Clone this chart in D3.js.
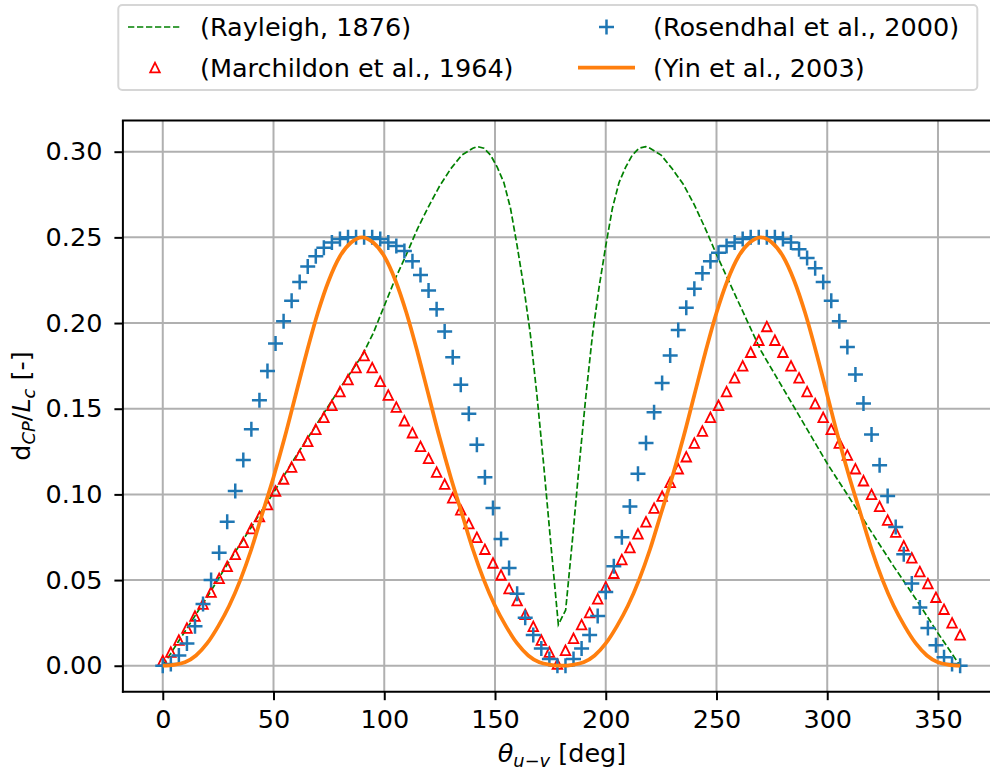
<!DOCTYPE html>
<html>
<head>
<meta charset="utf-8">
<script src="https://cdn.jsdelivr.net/npm/d3@7"></script>
<style>
  body { margin: 0; background: #fff; }
  text { font-family: "DejaVu Sans", sans-serif; }
</style>
</head>
<body>
<svg id="chart" width="990" height="774"></svg>
<script>
// sample angles shared by the two measured series (deg)
const theta = [0, 3.64, 7.27, 10.91, 14.55, 18.18, 21.82, 25.45, 29.09, 32.73,
  36.36, 40, 43.64, 47.27, 50.91, 54.55, 58.18, 61.82, 65.45, 69.09,
  72.73, 76.36, 80, 83.64, 87.27, 90.91, 94.55, 98.18, 101.82, 105.45,
  109.09, 112.73, 116.36, 120, 123.64, 127.27, 130.91, 134.55, 138.18, 141.82,
  145.45, 149.09, 152.73, 156.36, 160, 163.64, 167.27, 170.91, 174.55, 178.18,
  181.82, 185.45, 189.09, 192.73, 196.36, 200, 203.64, 207.27, 210.91, 214.55,
  218.18, 221.82, 225.45, 229.09, 232.73, 236.36, 240, 243.64, 247.27, 250.91,
  254.55, 258.18, 261.82, 265.45, 269.09, 272.73, 276.36, 280, 283.64, 287.27,
  290.91, 294.55, 298.18, 301.82, 305.45, 309.09, 312.73, 316.36, 320, 323.64,
  327.27, 330.91, 334.55, 338.18, 341.82, 345.45, 349.09, 352.73, 356.36, 360]

// (Marchildon et al., 1964)
const marchildon = [0.003, 0.008, 0.015, 0.022, 0.029, 0.036, 0.043, 0.051, 0.058, 0.065,
  0.072, 0.080, 0.087, 0.094, 0.102, 0.109, 0.116, 0.123, 0.131, 0.138,
  0.145, 0.152, 0.160, 0.167, 0.174, 0.181, 0.174, 0.166, 0.158, 0.151,
  0.143, 0.136, 0.128, 0.121, 0.113, 0.106, 0.098, 0.091, 0.083, 0.075,
  0.068, 0.060, 0.053, 0.045, 0.038, 0.030, 0.023, 0.015, 0.008, 0.001,
  0.009, 0.016, 0.024, 0.031, 0.039, 0.046, 0.054, 0.062, 0.069, 0.077,
  0.084, 0.092, 0.099, 0.107, 0.115, 0.122, 0.130, 0.137, 0.145, 0.152,
  0.160, 0.168, 0.175, 0.183, 0.190, 0.198, 0.190, 0.183, 0.175, 0.168,
  0.160, 0.153, 0.145, 0.138, 0.130, 0.123, 0.115, 0.108, 0.100, 0.093,
  0.085, 0.078, 0.070, 0.063, 0.055, 0.048, 0.040, 0.033, 0.025, 0.018]

// (Rosendhal et al., 2000)
const rosendahl = [0.000, 0.001, 0.006, 0.013, 0.023, 0.036, 0.050, 0.066, 0.084, 0.102,
  0.120, 0.138, 0.155, 0.172, 0.188, 0.201, 0.213, 0.224, 0.233, 0.239,
  0.244, 0.247, 0.249, 0.250, 0.250, 0.250, 0.250, 0.249, 0.247, 0.245,
  0.242, 0.236, 0.228, 0.219, 0.208, 0.195, 0.180, 0.164, 0.147, 0.129,
  0.110, 0.092, 0.074, 0.057, 0.042, 0.028, 0.018, 0.010, 0.004, 0.000,
  0.000, 0.004, 0.010, 0.018, 0.029, 0.043, 0.058, 0.075, 0.093, 0.112,
  0.130, 0.148, 0.165, 0.181, 0.196, 0.209, 0.220, 0.229, 0.236, 0.241,
  0.245, 0.247, 0.249, 0.250, 0.250, 0.250, 0.250, 0.249, 0.247, 0.243,
  0.238, 0.232, 0.224, 0.213, 0.201, 0.186, 0.170, 0.153, 0.135, 0.117,
  0.099, 0.081, 0.065, 0.048, 0.034, 0.022, 0.012, 0.005, 0.001, 0.000]

// (Rayleigh, 1876)
const rayleighTheta = [0, 10, 20, 30, 40, 50, 60, 70, 80, 90, 95, 100, 105, 110, 115,
  120, 125, 130, 135, 140, 142, 145, 148, 151, 154, 157, 160, 163, 166, 169,
  172, 175, 178.6, 181.9, 185, 188, 191, 194, 197, 200, 203, 206, 209, 212, 215,
  218, 220, 225, 230, 235, 240, 245, 250, 255, 260, 265, 270, 280, 290, 300,
  310, 320, 330, 340, 350, 360]
const rayleigh = [0, 0.020, 0.040, 0.061, 0.081, 0.101, 0.122, 0.142, 0.162, 0.181, 0.194, 0.210, 0.226, 0.240, 0.255,
  0.268, 0.280, 0.290, 0.298, 0.302, 0.303, 0.302, 0.298, 0.291, 0.282, 0.267, 0.245, 0.221, 0.193, 0.157,
  0.117, 0.074, 0.024, 0.0325, 0.074, 0.117, 0.157, 0.193, 0.221, 0.245, 0.267, 0.282, 0.291, 0.298, 0.302,
  0.303, 0.302, 0.298, 0.290, 0.281, 0.269, 0.255, 0.240, 0.226, 0.212, 0.198, 0.184, 0.162, 0.140, 0.118,
  0.098, 0.078, 0.058, 0.039, 0.019, 0]

// (Yin et al., 2003)
const yinTheta = [0, 5, 10, 15, 20, 25, 30, 35, 40, 45, 50, 55, 60, 65, 70, 75, 80, 85, 90,
  95, 100, 105, 110, 115, 120, 125, 130, 135, 140, 145, 150, 155, 160, 165, 170, 175, 180,
  185, 190, 195, 200, 205, 210, 215, 220, 225, 230, 235, 240, 245, 250, 255, 260, 265, 270,
  275, 280, 285, 290, 295, 300, 305, 310, 315, 320, 325, 330, 335, 340, 345, 350, 355, 360]
const yin = [0, 0.0005, 0.002, 0.006, 0.013, 0.023, 0.035, 0.050, 0.068, 0.089, 0.110, 0.133, 0.158, 0.183, 0.206, 0.225, 0.239, 0.247, 0.250,
  0.247, 0.239, 0.225, 0.206, 0.183, 0.158, 0.133, 0.110, 0.089, 0.068, 0.050, 0.035, 0.023, 0.013, 0.006, 0.002, 0.0005, 0,
  0.0005, 0.002, 0.006, 0.013, 0.023, 0.035, 0.050, 0.068, 0.089, 0.110, 0.133, 0.158, 0.183, 0.206, 0.225, 0.239, 0.247, 0.250,
  0.247, 0.239, 0.225, 0.206, 0.183, 0.158, 0.133, 0.110, 0.089, 0.068, 0.050, 0.035, 0.023, 0.013, 0.006, 0.002, 0.0005, 0]

const xTicks = [0, 50, 100, 150, 200, 250, 300, 350]
const yTicks = [0, 0.05, 0.10, 0.15, 0.20, 0.25, 0.30]

const legendItems = [
  {label: '(Rayleigh, 1876)', kind: 'dash', color: 'green'},
  {label: '(Marchildon et al., 1964)', kind: 'tri', color: 'red'},
  {label: '(Rosendhal et al., 2000)', kind: 'plus', color: '#1f77b4'},
  {label: '(Yin et al., 2003)', kind: 'line', color: '#ff7f0e'}
]

const fs = 25.5
const svg = d3.select('#chart')

let x = d3.scaleLinear().domain([-18, 378]).range([122.9, 1000])
let y = d3.scaleLinear().domain([-0.01515, 0.31815]).range([691.7, 120.6])

svg.append('defs').append('clipPath').attr('id', 'plotclip')
  .append('rect').attr('x', 122.9).attr('y', 120.6).attr('width', 1000 - 122.9).attr('height', 691.7 - 120.6)

// grid
let grid = svg.append('g').attr('stroke', '#b0b0b0').attr('stroke-width', 2)
grid.selectAll('.gx').data(xTicks).enter().append('line')
  .attr('x1', d => x(d)).attr('x2', d => x(d)).attr('y1', 120.6).attr('y2', 691.7)
grid.selectAll('.gy').data(yTicks).enter().append('line')
  .attr('x1', 122.9).attr('x2', 1000).attr('y1', d => y(d)).attr('y2', d => y(d))

let plot = svg.append('g').attr('clip-path', 'url(#plotclip)')

// Rayleigh
let rayPts = rayleighTheta.map((t, i) => [t, rayleigh[i]])
plot.append('path').datum(rayPts)
  .attr('fill', 'none').attr('stroke', 'green').attr('stroke-width', 1.7)
  .attr('stroke-dasharray', '6.3,2.7')
  .attr('d', d3.line().x(d => x(d[0])).y(d => y(d[1])))

const triPath = s => `M0,${-s}L${-s},${s}L${s},${s}Z`
const plusPath = s => `M${-s},0H${s}M0,${-s}V${s}`

// Marchildon triangles
plot.selectAll('.tri').data(theta.map((t, i) => [t, marchildon[i]])).enter().append('path')
  .attr('d', triPath(4.8))
  .attr('transform', d => `translate(${x(d[0])},${y(d[1])})`)
  .attr('fill', 'none').attr('stroke', 'red').attr('stroke-width', 1.8)

// Rosendahl pluses
plot.selectAll('.plus').data(theta.map((t, i) => [t, rosendahl[i]])).enter().append('path')
  .attr('d', plusPath(7.5))
  .attr('transform', d => `translate(${x(d[0])},${y(d[1])})`)
  .attr('fill', 'none').attr('stroke', '#1f77b4').attr('stroke-width', 2.5)

// Yin
plot.append('path').datum(yinTheta.map((t, i) => [t, yin[i]]))
  .attr('fill', 'none').attr('stroke', '#ff7f0e').attr('stroke-width', 3.75)
  .attr('stroke-linejoin', 'round')
  .attr('d', d3.line().curve(d3.curveMonotoneX).x(d => x(d[0])).y(d => y(d[1])))

// axes
let xAxis = svg.append('g').attr('transform', 'translate(0,691.7)')
  .call(d3.axisBottom(x).tickValues(xTicks).tickSize(8.5).tickPadding(10).tickFormat(d3.format('d')))
let yAxis = svg.append('g').attr('transform', 'translate(122.9,0)')
  .call(d3.axisLeft(y).tickValues(yTicks).tickSize(8.5).tickPadding(12).tickFormat(d3.format('.2f')))
;[xAxis, yAxis].forEach(a => {
  a.select('.domain').remove()
  a.selectAll('.tick line').attr('stroke', '#000').attr('stroke-width', 2)
  a.selectAll('.tick text').attr('font-size', fs).attr('fill', '#000')
    .style('font-family', '"DejaVu Sans", sans-serif')
})

// spines
let spines = svg.append('g').attr('stroke', '#000').attr('stroke-width', 2).attr('fill', 'none')
spines.append('line').attr('x1', 122.9).attr('x2', 122.9).attr('y1', 120.6).attr('y2', 692.7)
spines.append('line').attr('x1', 121.9).attr('x2', 1000).attr('y1', 691.7).attr('y2', 691.7)
spines.append('line').attr('x1', 121.9).attr('x2', 1000).attr('y1', 120.6).attr('y2', 120.6)

// axis labels
let xl = svg.append('text').attr('x', 562).attr('y', 762).attr('text-anchor', 'middle').attr('font-size', fs)
xl.append('tspan').attr('font-style', 'italic').text('θ')
xl.append('tspan').attr('font-style', 'italic').attr('font-size', fs * 0.7).attr('dy', 5).text('u\u2212v')
xl.append('tspan').attr('dy', -5).text(' [deg]')

let yl = svg.append('text').attr('transform', 'translate(29.5,406) rotate(-90)')
  .attr('text-anchor', 'middle').attr('font-size', fs)
yl.append('tspan').text('d')
yl.append('tspan').attr('font-style', 'italic').attr('font-size', fs * 0.7).attr('dy', 5).text('CP')
yl.append('tspan').attr('dy', -5).text('/')
yl.append('tspan').attr('font-style', 'italic').text('L')
yl.append('tspan').attr('font-style', 'italic').attr('font-size', fs * 0.7).attr('dy', 5).text('c')
yl.append('tspan').attr('dy', -5).text(' [-]')

// legend
let lg = svg.append('g')
lg.append('rect').attr('x', 118.3).attr('y', 5).attr('width', 977.3 - 118.3).attr('height', 85)
  .attr('rx', 4).attr('fill', '#fff').attr('fill-opacity', 0.8)
  .attr('stroke', '#d6d6d6').attr('stroke-width', 2)

const colX = [128, 578]
const colText = [200, 653]
const rowY = [27, 67.5]
legendItems.forEach((it, i) => {
  let c = Math.floor(i / 2), r = i % 2
  let x0 = colX[c], cy = rowY[r], g = lg.append('g')
  if (it.kind === 'dash') {
    g.append('line').attr('x1', x0).attr('x2', x0 + 54).attr('y1', cy).attr('y2', cy)
      .attr('stroke', it.color).attr('stroke-width', 1.7).attr('stroke-dasharray', '6.3,2.7')
  } else if (it.kind === 'line') {
    g.append('line').attr('x1', x0).attr('x2', x0 + 57).attr('y1', cy).attr('y2', cy)
      .attr('stroke', it.color).attr('stroke-width', 3.75)
  } else if (it.kind === 'tri') {
    g.append('path').attr('d', triPath(4.8)).attr('transform', `translate(${x0 + 27},${cy})`)
      .attr('fill', 'none').attr('stroke', it.color).attr('stroke-width', 1.8)
  } else {
    g.append('path').attr('d', plusPath(7.5)).attr('transform', `translate(${x0 + 28.5},${cy})`)
      .attr('fill', 'none').attr('stroke', it.color).attr('stroke-width', 2.5)
  }
  g.append('text').attr('x', colText[c]).attr('y', cy).attr('dy', '0.36em')
    .attr('font-size', fs).attr('fill', '#000').text(it.label)
})
</script>
</body>
</html>
